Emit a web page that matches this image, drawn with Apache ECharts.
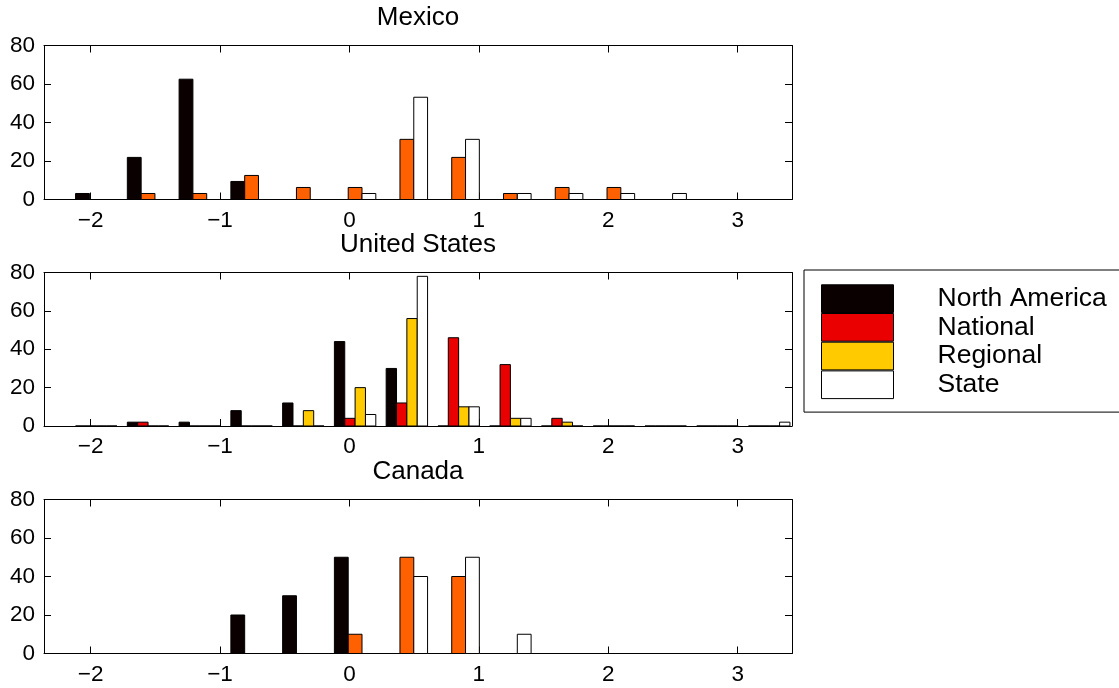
<!DOCTYPE html>
<html><head><meta charset="utf-8">
<script src="https://cdn.jsdelivr.net/npm/echarts@6/dist/echarts.min.js"></script>
<style>html,body{margin:0;padding:0;background:#fff}#c{width:1119px;height:688px}</style>
</head><body><div id="c"></div>
<script>
// ---- data ----
const binCenters = [-1.956, -1.556, -1.156, -0.756, -0.356, 0.044, 0.444, 0.844, 1.244, 1.644, 2.044, 2.444, 2.844, 3.244];
const xTicks = [-2, -1, 0, 1, 2, 3];
const xTickLabels = ['\u22122', '\u22121', '0', '1', '2', '3'];
const yTicks = [0, 20, 40, 60, 80];
const panelTitles = ['Mexico', 'United States', 'Canada'];
const legendNames = ['North America', 'National', 'Regional', 'State'];

const mexicoNorthAmerica = [3.125, 21.875, 62.5, 9.375, 0, 0, 0, 0, 0, 0, 0, 0, 0, 0];
const mexicoNational     = [0, 3.125, 3.125, 12.5, 6.25, 6.25, 31.25, 21.875, 3.125, 6.25, 6.25, 0, 0, 0];
const mexicoState        = [0, 0, 0, 0, 0, 3.125, 53.125, 31.25, 3.125, 3.125, 3.125, 3.125, 0, 0];

const usNorthAmerica = [0, 2, 2, 8, 12, 44, 30, 0, 0, 0, 0, 0, 0, 0];
const usNational     = [0, 2, 0, 0, 0, 4, 12, 46, 32, 4, 0, 0, 0, 0];
const usRegional     = [0, 0, 0, 0, 8, 20, 56, 10, 4, 2, 0, 0, 0, 0];
const usState        = [0, 0, 0, 0, 0, 6, 78, 10, 4, 0, 0, 0, 0, 2];

const canadaNorthAmerica = [0, 0, 0, 20, 30, 50, 0, 0, 0, 0, 0, 0, 0, 0];
const canadaNational     = [0, 0, 0, 0, 0, 10, 50, 40, 0, 0, 0, 0, 0, 0];
const canadaState        = [0, 0, 0, 0, 0, 0, 40, 50, 10, 0, 0, 0, 0, 0];

// ---- styling ----
const FONT = 'Liberation Sans, Arial, sans-serif';
const C_BLACK = 'rgb(10,0,0)', C_RED = 'rgb(234,0,0)', C_YEL = 'rgb(255,202,0)', C_ORA = 'rgb(255,96,0)', C_WHITE = '#ffffff';
const grids = [
  {left: 44, right: 327, top: 45.5, height: 154},
  {left: 44, right: 327, top: 272.5, height: 153.5},
  {left: 44, right: 327, top: 499.5, height: 154}
];
const XMIN = -2.36, XMAX = 3.42;

function makeSeries(name, values, g, k, n, color) {
  const bw = 0.32 / n;
  const off = (k - (n - 1) / 2) * bw;
  return {
    type: 'custom', name: name, xAxisIndex: g * 2, yAxisIndex: g * 2,
    data: binCenters.map((c, i) => [c, values[i]]),
    encode: {x: 0, y: 1},
    itemStyle: {color: color, borderColor: '#000', borderWidth: 1},
    silent: true,
    renderItem: function (params, api) {
      const x = api.value(0), y = api.value(1);
      const p0 = api.coord([x + off - bw / 2, y]);
      const p1 = api.coord([x + off + bw / 2, 0]);
      return {
        type: 'rect',
        shape: {x: p0[0], y: p0[1], width: p1[0] - p0[0], height: p1[1] - p0[1]},
        style: {fill: color, stroke: '#000', lineWidth: 1}
      };
    }
  };
}

const xAxes = [], yAxes = [];
grids.forEach((gr, g) => {
  xAxes.push({
    type: 'value', gridIndex: g, min: XMIN, max: XMAX, position: 'bottom',
    axisLine: {show: true, onZero: false, lineStyle: {color: '#000', width: 1}},
    axisTick: {show: true, inside: true, length: 7, customValues: xTicks, lineStyle: {color: '#000'}},
    axisLabel: {customValues: xTicks, formatter: v => xTickLabels[xTicks.indexOf(v)], fontSize: 22.5, color: '#000', fontFamily: FONT, margin: 10, lineHeight: 22},
    splitLine: {show: false}
  });
  xAxes.push({
    type: 'value', gridIndex: g, min: XMIN, max: XMAX, position: 'top',
    axisLine: {show: true, onZero: false, lineStyle: {color: '#000', width: 1}},
    axisTick: {show: true, inside: true, length: 7, customValues: xTicks, lineStyle: {color: '#000'}},
    axisLabel: {show: false},
    splitLine: {show: false}
  });
  yAxes.push({
    type: 'value', gridIndex: g, min: 0, max: 80, position: 'left',
    axisLine: {show: true, onZero: false, lineStyle: {color: '#000', width: 1}},
    axisTick: {show: true, inside: true, length: 7, customValues: yTicks, lineStyle: {color: '#000'}},
    axisLabel: {customValues: yTicks, fontSize: 22.5, color: '#000', fontFamily: FONT, margin: 9},
    splitLine: {show: false}
  });
  yAxes.push({
    type: 'value', gridIndex: g, min: 0, max: 80, position: 'right',
    axisLine: {show: true, onZero: false, lineStyle: {color: '#000', width: 1}},
    axisTick: {show: true, inside: true, length: 7, customValues: yTicks, lineStyle: {color: '#000'}},
    axisLabel: {show: false},
    splitLine: {show: false}
  });
});

const series = [
  makeSeries(legendNames[0], usNorthAmerica, 1, 0, 4, C_BLACK),
  makeSeries(legendNames[1], usNational, 1, 1, 4, C_RED),
  makeSeries(legendNames[2], usRegional, 1, 2, 4, C_YEL),
  makeSeries(legendNames[3], usState, 1, 3, 4, C_WHITE),
  makeSeries('Mexico North America', mexicoNorthAmerica, 0, 0, 3, C_BLACK),
  makeSeries('Mexico National', mexicoNational, 0, 1, 3, C_ORA),
  makeSeries('Mexico State', mexicoState, 0, 2, 3, C_WHITE),
  makeSeries('Canada North America', canadaNorthAmerica, 2, 0, 3, C_BLACK),
  makeSeries('Canada National', canadaNational, 2, 1, 3, C_ORA),
  makeSeries('Canada State', canadaState, 2, 2, 3, C_WHITE)
];

const titleTops = [4.5, 231.5, 458.5];
const option = {
  backgroundColor: '#fff',
  animation: false,
  title: panelTitles.map((t, i) => ({
    text: t, left: 418, top: titleTops[i], textAlign: 'center', padding: 0,
    textStyle: {fontSize: 26, fontWeight: 'normal', color: '#000', fontFamily: FONT, lineHeight: 26}
  })),
  grid: grids,
  xAxis: xAxes,
  yAxis: yAxes,
  legend: {
    data: legendNames, orient: 'vertical', left: 804, top: 270,
    itemWidth: 72, itemHeight: 27.7, itemGap: 0, icon: 'rect',
    padding: [14.3, 40, 13, 17], borderColor: '#000', borderWidth: 1, backgroundColor: '#fff',
    selectedMode: false,
    itemStyle: {borderColor: '#000', borderWidth: 1},
    textStyle: {fontSize: 26.5, color: '#000', fontFamily: FONT, padding: [3, 0, 0, 39], lineHeight: 24}
  },
  series: series
};
const chart = echarts.init(document.getElementById('c'), null, {renderer: 'canvas'});
chart.setOption(option);
</script>
</body></html>
